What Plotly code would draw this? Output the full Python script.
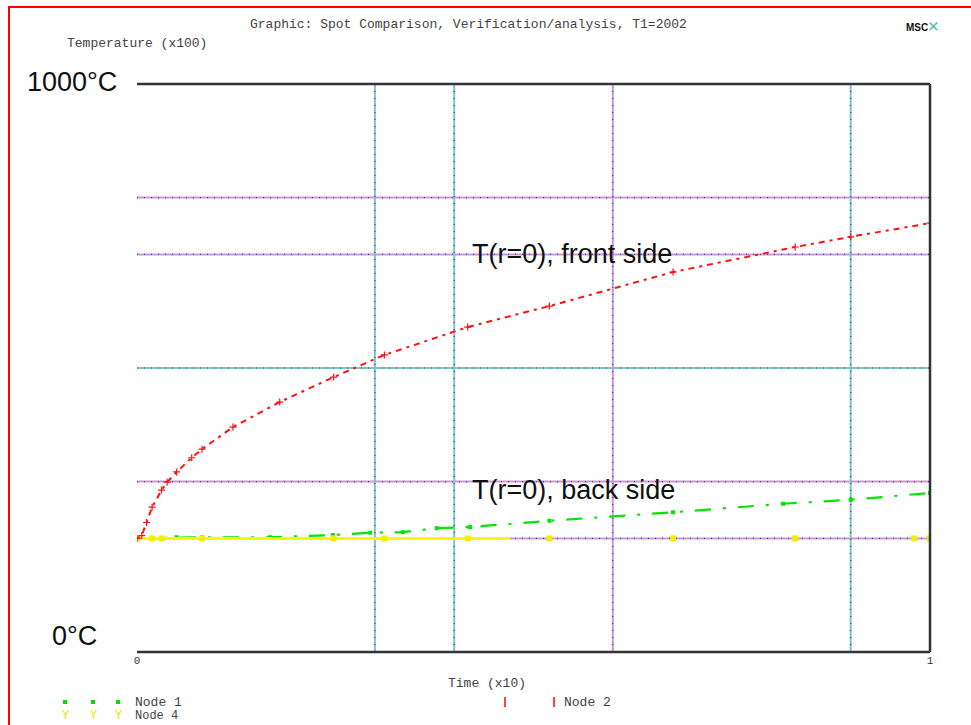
import plotly.graph_objects as go

# ---------------- data ----------------
node2_time = [0, 0.006, 0.012, 0.019, 0.031, 0.038, 0.05, 0.069, 0.082, 0.121, 0.18,
              0.248, 0.312, 0.417, 0.52, 0.676, 0.83, 0.9, 1.0]
node2_temp = [200, 205, 228, 255, 285, 299, 317, 342, 357, 396, 440,
              484, 523, 572, 609, 669, 713, 731, 755]

node1_time = [0, 0.05, 0.082, 0.168, 0.247, 0.294, 0.335, 0.378, 0.42, 0.52, 0.676, 0.815, 0.9, 1.0]
node1_temp = [200, 202, 202, 202, 206, 210, 211, 218, 220, 231, 246, 261, 268, 280]

node4_time = [0, 0.019, 0.031, 0.082, 0.248, 0.312, 0.417, 0.52, 0.676, 0.83, 0.98, 1.0]
node4_temp = [200, 200, 200, 200, 200, 200, 200, 200, 200, 200, 200, 200]

hgrid_values = [200, 300, 500, 700, 800]
hgrid_kinds = ["purple", "purple", "teal", "purple", "purple"]
vgrid_values = [0.3, 0.4, 0.6, 0.9]
vgrid_kinds = ["teal", "teal", "purple", "teal"]

x_tick_values = [0, 1]
x_tick_labels = ["0", "1"]
y_end_labels = ["0°C", "1000°C"]

# ---------------- layout geometry ----------------
W, H = 971, 725
L, R, T, B = 137, 41, 84, 73
PW, PH = W - L - R, H - T - B


def px_x(px):
    return (px - L) / PW


def px_y(py):
    return (H - B - py) / PH


grid_colors = {"purple": "#c898d4", "teal": "#80c4c8"}

fig = go.Figure()

fig.add_trace(go.Scatter(
    x=node1_time, y=node1_temp, mode="lines+markers", name="Node 1",
    line=dict(color="#00e600", width=2.2, dash="16px,12px,3px,12px"),
    marker=dict(symbol="square", size=4, color="#00e600"),
    showlegend=False))

fig.add_trace(go.Scatter(
    x=node4_time, y=node4_temp, mode="lines+markers", name="Node 4",
    line=dict(color="#f8f800", width=3, dash="373px,3000px"),
    marker=dict(symbol="square", size=6, color="#f0f000"),
    showlegend=False))

fig.add_trace(go.Scatter(
    x=node2_time, y=node2_temp, mode="lines+markers", name="Node 2",
    line=dict(color="#ff1010", width=2, dash="3px,5px,6px,5px"),
    marker=dict(symbol="cross-thin", size=5, color="#ff1010",
                line=dict(color="#ff1010", width=1.2)),
    showlegend=False))

shapes = []
for v, k in zip(hgrid_values, hgrid_kinds):
    shapes.append(dict(type="line", xref="x", yref="y", x0=0, x1=1, y0=v, y1=v,
                       line=dict(color=grid_colors[k], width=2), layer="below"))
    shapes.append(dict(type="line", xref="x", yref="y", x0=0, x1=1, y0=v, y1=v,
                       line=dict(color="#3838a8", width=1.2, dash="1px,6px"), layer="below"))
for v, k in zip(vgrid_values, vgrid_kinds):
    shapes.append(dict(type="line", xref="x", yref="y", x0=v, x1=v, y0=0, y1=1000,
                       line=dict(color=grid_colors[k], width=2), layer="below"))
    shapes.append(dict(type="line", xref="x", yref="y", x0=v, x1=v, y0=0, y1=1000,
                       line=dict(color="#3838a8", width=1.2, dash="1px,6px"), layer="below"))

# frame lines of the plot: top, bottom, right (no left line)
shapes.append(dict(type="line", xref="paper", yref="paper", x0=0, x1=1, y0=1, y1=1,
                   line=dict(color="#333", width=2.5)))
shapes.append(dict(type="line", xref="paper", yref="paper", x0=0, x1=1, y0=0, y1=0,
                   line=dict(color="#333", width=2.5)))
shapes.append(dict(type="line", xref="paper", yref="paper", x0=1, x1=1, y0=0, y1=1,
                   line=dict(color="#333", width=2.5)))

# red page frame
shapes.append(dict(type="rect", xref="paper", yref="paper",
                   x0=px_x(9), x1=px_x(1200), y0=px_y(1000), y1=px_y(7),
                   line=dict(color="#ff0000", width=2)))

# legend symbols
for px in (65, 93, 118):
    shapes.append(dict(type="rect", xref="paper", yref="paper",
                       x0=px_x(px - 2), x1=px_x(px + 2), y0=px_y(704), y1=px_y(700),
                       fillcolor="#00e000", line=dict(width=0)))
for px in (505, 554):
    shapes.append(dict(type="line", xref="paper", yref="paper",
                       x0=px_x(px), x1=px_x(px), y0=px_y(707), y1=px_y(697),
                       line=dict(color="#ff0000", width=1.5)))

mono = "Liberation Mono, DejaVu Sans Mono, monospace"
big = "Liberation Sans, Arial, sans-serif"

annotations = [
    dict(text="Graphic: Spot Comparison, Verification/analysis, T1=2002",
         xref="paper", yref="paper", x=px_x(248), y=px_y(25), xanchor="left", yanchor="middle",
         showarrow=False, font=dict(family=mono, size=13, color="#444")),
    dict(text="Temperature (x100)",
         xref="paper", yref="paper", x=px_x(65), y=px_y(43), xanchor="left", yanchor="middle",
         showarrow=False, font=dict(family=mono, size=13, color="#444")),
    dict(text="Time (x10)",
         xref="paper", yref="paper", x=px_x(446), y=px_y(683), xanchor="left", yanchor="middle",
         showarrow=False, font=dict(family=mono, size=13, color="#444")),
    dict(text="<b>MSC</b>",
         xref="paper", yref="paper", x=px_x(904), y=px_y(27), xanchor="left", yanchor="middle",
         showarrow=False, font=dict(family="Liberation Sans", size=10, color="#111")),
    dict(text="⨯",
         xref="paper", yref="paper", x=px_x(925), y=px_y(26), xanchor="left", yanchor="middle",
         showarrow=False, font=dict(family="DejaVu Sans", size=15, color="#40b8a0")),
    dict(text=y_end_labels[1], xref="paper", yref="paper", x=px_x(119), y=px_y(82),
         xanchor="right", yanchor="middle", showarrow=False,
         font=dict(family=big, size=27, color="#111")),
    dict(text=y_end_labels[0], xref="paper", yref="paper", x=px_x(99), y=px_y(636),
         xanchor="right", yanchor="middle", showarrow=False,
         font=dict(family=big, size=27, color="#111")),
    dict(text="T(r=0), front side", xref="x", yref="y", x=px_x(470), y=700,
         xanchor="left", yanchor="middle", showarrow=False,
         font=dict(family=big, size=27, color="#111")),
    dict(text="T(r=0), back side", xref="x", yref="y", x=px_x(470), y=285,
         xanchor="left", yanchor="middle", showarrow=False,
         font=dict(family=big, size=27, color="#111")),
    dict(text="Node 1", xref="paper", yref="paper", x=px_x(133), y=px_y(702),
         xanchor="left", yanchor="middle", showarrow=False,
         font=dict(family=mono, size=13, color="#444")),
    dict(text="Node 2", xref="paper", yref="paper", x=px_x(562), y=px_y(702),
         xanchor="left", yanchor="middle", showarrow=False,
         font=dict(family=mono, size=13, color="#444")),
    dict(text="Node 4", xref="paper", yref="paper", x=px_x(133), y=px_y(716),
         xanchor="left", yanchor="middle", showarrow=False,
         font=dict(family=mono, size=12, color="#444")),
]
for px in (65, 93, 118):
    annotations.append(dict(text="Y", xref="paper", yref="paper", x=px_x(px), y=px_y(716),
                            xanchor="center", yanchor="middle", showarrow=False,
                            font=dict(family=mono, size=12, color="#e8e800")))

fig.update_layout(
    width=W, height=H,
    margin=dict(l=L, r=R, t=T, b=B, pad=0),
    paper_bgcolor="white", plot_bgcolor="white",
    showlegend=False,
    shapes=shapes,
    annotations=annotations,
    xaxis=dict(range=[0, 1], showgrid=False, zeroline=False, showline=False,
               tickvals=x_tick_values, ticktext=x_tick_labels, ticks="",
               tickfont=dict(family=mono, size=11, color="#333")),
    yaxis=dict(range=[0, 1000], showgrid=False, zeroline=False, showline=False,
               showticklabels=False, ticks=""),
)

fig.write_html("out.html")
